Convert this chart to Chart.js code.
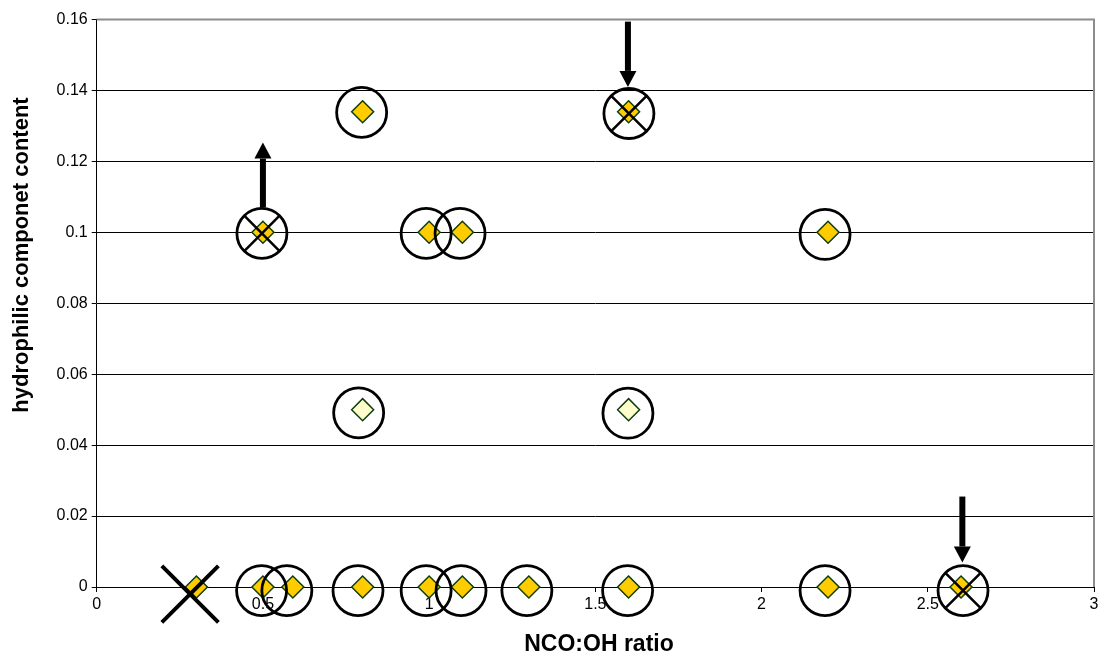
<!DOCTYPE html>
<html>
<head>
<meta charset="utf-8">
<script src="https://cdn.jsdelivr.net/npm/chart.js@4"></script>
<style>
  body { margin: 0; background: #fff; }
  #wrap { width: 1102px; height: 668px; }
</style>
</head>
<body>
<div id="wrap"><canvas id="myChart"></canvas></div>
<script>
// samples (NCO:OH ratio vs hydrophilic component content)
var ratioX   = [0.3, 0.5, 0.59, 0.8, 1.0, 1.1, 1.3, 1.6, 2.2, 2.6, 0.5, 1.0, 1.1, 2.2, 0.8, 1.6];
var contentY = [0, 0, 0, 0, 0, 0, 0, 0, 0, 0, 0.1, 0.1, 0.1, 0.1, 0.134, 0.134];

// the two pale samples
var paleX = [0.8, 1.6];
var paleY = [0.05, 0.05];

// hand drawn rings around samples
var ringX = [0.496, 0.572, 0.786, 0.991, 1.096, 1.294, 1.597, 2.191, 2.606, 0.497, 0.991, 1.093, 2.191, 0.797, 1.601, 0.788, 1.598];
var ringY = [-0.001, -0.001, -0.001, -0.001, -0.001, -0.001, -0.001, -0.001, -0.001, 0.0997, 0.0997, 0.0997, 0.0994, 0.1338, 0.1335, 0.0491, 0.049];

// rings that are crossed out
var crossX = [0.497, 1.601, 2.606];
var crossY = [0.0997, 0.1335, -0.001];

// big cross without ring
var rejectX = [0.281];
var rejectY = [-0.002];

// arrows: x, start value, tip value
var arrowX    = [0.5, 1.598, 2.604];
var arrowFrom = [0.107, 0.1594, 0.0255];
var arrowTo   = [0.1253, 0.141, 0.0069];

var xTicks = [0, 0.5, 1, 1.5, 2, 2.5, 3];
var yTicks = [0, 0.02, 0.04, 0.06, 0.08, 0.1, 0.12, 0.14, 0.16];

var xTitle = "NCO:OH ratio";
var yTitle = "hydrophilic componet content";

function toPoints(xs, ys){
    var pts = [];
    for(var i = 0; i < xs.length; i++){
        pts.push({x: xs[i], y: ys[i]});
    }
    return pts;
}

// plain number labels: 0.1 not 0.10, 1 not 1.0
function plainLabel(v){
    return String(parseFloat(Number(v).toFixed(4)));
}

var FONT = "'Liberation Sans', Arial, sans-serif";

// gray frame on top/right, arrows and axis titles
var extras = {
    id: "extras",
    afterDatasetsDraw: function(chart){
        var ctx = chart.ctx;
        var xs = chart.scales.x, ys = chart.scales.y;
        ctx.save();
        ctx.fillStyle = "#000";
        ctx.strokeStyle = "#000";
        for(var i = 0; i < arrowX.length; i++){
            var px = xs.getPixelForValue(arrowX[i]);
            var p0 = ys.getPixelForValue(arrowFrom[i]);
            var p1 = ys.getPixelForValue(arrowTo[i]);
            var dir = p1 < p0 ? 1 : -1;   // 1 = pointing up
            var headLen = 16, headW = 8.5;
            ctx.lineWidth = 6;
            ctx.beginPath();
            ctx.moveTo(px, p0);
            ctx.lineTo(px, p1 + dir * headLen);
            ctx.stroke();
            ctx.beginPath();
            ctx.moveTo(px, p1);
            ctx.lineTo(px - headW, p1 + dir * headLen);
            ctx.lineTo(px + headW, p1 + dir * headLen);
            ctx.closePath();
            ctx.fill();
        }
        ctx.restore();
    },
    afterDraw: function(chart){
        var ctx = chart.ctx;
        var a = chart.chartArea;
        ctx.save();
        ctx.strokeStyle = "#8c8c8c";
        ctx.lineWidth = 2;
        ctx.beginPath();
        ctx.moveTo(a.left, a.top);
        ctx.lineTo(a.right, a.top);
        ctx.lineTo(a.right, a.bottom);
        ctx.stroke();

        ctx.fillStyle = "#000";
        ctx.textAlign = "center";
        ctx.textBaseline = "middle";
        ctx.font = "bold 23px " + FONT;
        ctx.fillText(xTitle, 599, 645);
        ctx.font = "bold 22px " + FONT;
        ctx.translate(22, 255);
        ctx.rotate(-Math.PI / 2);
        ctx.fillText(yTitle, 0, 0);
        ctx.restore();
    }
};

const chartData = {
    datasets: [
    {
        label: "crossed",
        data: toPoints(crossX, crossY),
        pointStyle: "crossRot",
        pointRadius: 25,
        borderColor: "#000",
        borderWidth: 2.5,
        backgroundColor: "rgba(0,0,0,0)",
        clip: false
    },
    {
        label: "reject",
        data: toPoints(rejectX, rejectY),
        pointStyle: "crossRot",
        pointRadius: 40,
        borderColor: "#000",
        borderWidth: 4,
        backgroundColor: "rgba(0,0,0,0)",
        clip: false
    },
    {
        label: "rings",
        data: toPoints(ringX, ringY),
        pointStyle: "circle",
        pointRadius: 25,
        borderColor: "#000",
        borderWidth: 2.8,
        backgroundColor: "rgba(0,0,0,0)",
        clip: false
    },
    {
        label: "pale",
        data: toPoints(paleX, paleY),
        pointStyle: "rectRot",
        pointRadius: 11,
        borderColor: "#0f3d0f",
        borderWidth: 1.5,
        backgroundColor: "#ffffcc",
        clip: false
    },
    {
        label: "samples",
        data: toPoints(ratioX, contentY),
        pointStyle: "rectRot",
        pointRadius: 11,
        borderColor: "#0f3d0f",
        borderWidth: 1.5,
        backgroundColor: "#ffcc00",
        clip: false
    }]
};

const config = {
    type: "scatter",
    data: chartData,
    plugins: [extras],
    options: {
        responsive: true,
        maintainAspectRatio: false,
        animation: false,
        events: [],
        layout: { autoPadding: false, padding: { top: 19.5, right: 8, left: 0, bottom: 0 } },
        plugins: { legend: { display: false }, tooltip: { enabled: false } },
        scales: {
            x: {
                type: "linear",
                min: 0,
                max: 3,
                afterFit: function(s){ s.height = 81; },
                afterBuildTicks: function(s){ s.ticks = xTicks.map(function(v){ return {value: v}; }); },
                grid: { drawOnChartArea: false, drawTicks: true, tickLength: 5, tickColor: "#000", lineWidth: 1 },
                border: { color: "#000", width: 1 },
                ticks: { color: "#000", padding: 3, maxRotation: 0, font: { family: FONT, size: 16 }, callback: plainLabel }
            },
            y: {
                type: "linear",
                min: 0,
                max: 0.16,
                afterFit: function(s){ s.width = 96.7; },
                afterBuildTicks: function(s){ s.ticks = yTicks.map(function(v){ return {value: v}; }); },
                grid: {
                    color: function(c){ return c.tick && c.tick.value === 0.16 ? "rgba(0,0,0,0)" : "#000"; },
                    tickColor: "#000",
                    tickLength: 5,
                    lineWidth: 1
                },
                border: { color: "#000", width: 1 },
                ticks: { color: "#000", padding: 4, font: { family: FONT, size: 16 }, callback: plainLabel }
            }
        }
    }
};

myChart = new Chart(
    document.getElementById("myChart"),
    config
);
</script>
</body>
</html>
